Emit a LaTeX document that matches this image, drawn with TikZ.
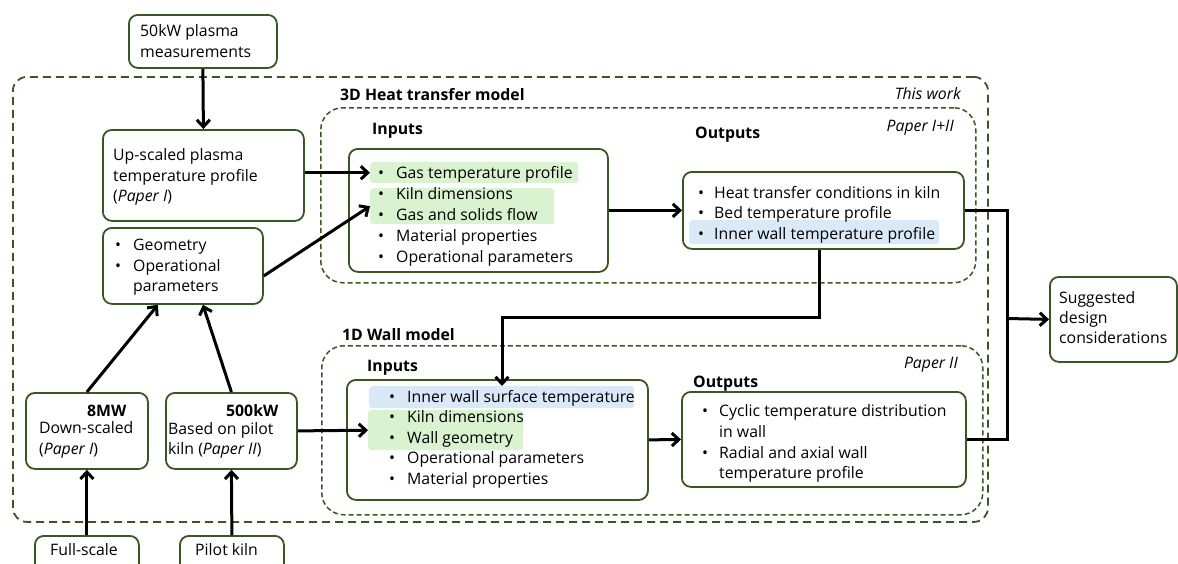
\documentclass[tikz,border=0pt]{standalone}
\usepackage{fontspec}
\setmainfont{Open Sans}
\usetikzlibrary{arrows.meta,calc}
\definecolor{dg}{RGB}{56,87,35}
\definecolor{hlg}{RGB}{217,242,208}
\definecolor{hlb}{RGB}{218,233,247}
\begin{document}
\begin{tikzpicture}[x=1pt,y=-1pt,
  box/.style={draw=dg,line width=1.8pt,rounded corners=9pt,anchor=north west,inner sep=0pt,fill=white},
  bigdash/.style={draw=dg,line width=1.8pt,rounded corners=14pt,anchor=north west,inner sep=0pt,dash pattern=on 8pt off 5pt},
  smalldash/.style={draw=dg,line width=1.5pt,rounded corners=22pt,anchor=north west,inner sep=0pt,dash pattern=on 5pt off 3pt},
  hl/.style={anchor=north west,inner sep=0pt,rounded corners=3pt},
  t/.style={anchor=base west,inner sep=0pt,font=\fontsize{15.8}{18}\selectfont},
  tb/.style={t,font=\fontsize{15.8}{18}\selectfont\bfseries},
  ti/.style={anchor=base east,inner sep=0pt,font=\fontsize{15.8}{18}\selectfont\itshape},
  arr/.style={line width=3pt,-{Straight Barb[length=7pt,width=13pt]}},
  ln/.style={line width=3pt}
]
\useasboundingbox (0,0) rectangle (1178,563);
\clip (0,0) rectangle (1178,563);

% dashed frames
\node[bigdash,minimum width=975pt,minimum height=445pt] (work) at (12,76) {};
\node[ti] (thiswork) at (961,99) {This work};
\node[smalldash,minimum width=655pt,minimum height=175pt] (frame3d) at (320,107) {};
\node[tb] (title3d) at (340,100) {3D Heat transfer model};
\node[ti] (p12) at (954,131) {Paper I+II};
\node[smalldash,minimum width=661pt,minimum height=169pt] (frame1d) at (321,345) {};
\node[tb] (title1d) at (342,340) {1D Wall model};
\node[ti] (p2) at (958,368) {Paper II};

% top box
\node[box,minimum width=148pt,minimum height=53pt] (p50) at (128,14) {};
\node[t] (p50a) at (140,36) {50kW plasma};
\node[t] (p50b) at (140,57) {measurements};

% up-scaled
\node[box,minimum width=201pt,minimum height=91pt] (up) at (102,129) {};
\node[t] (upa) at (113,160) {Up-scaled plasma};
\node[t] (upb) at (113,181) {temperature profile};
\node[t] (upc) at (113,201) {(\textit{Paper I})};

% geometry
\node[box,minimum width=160pt,minimum height=76pt] (geo) at (102,227) {};
\node[t] (geob1) at (115,250) {•};
\node[t] (geoa) at (133,250) {Geometry};
\node[t] (geob2) at (115,271) {•};
\node[t] (geoc) at (133,271) {Operational};
\node[t] (geod) at (133,291) {parameters};

% 3D inputs
\node[tb] (in3t) at (372,134) {Inputs};
\node[box,minimum width=259pt,minimum height=123pt] (in3) at (348,148) {};
\node[hl,fill=hlg,minimum width=208pt,minimum height=21pt] (g1) at (370,162) {};
\node[hl,fill=hlg,minimum width=184pt,minimum height=36pt] (g2) at (370,188) {};
\foreach \yy/\txt [count=\i] in {173/Gas temperature profile,194/Kiln dimensions,215/Gas and solids flow,236/Material properties,257/Operational parameters}{
  \node[t] (in3b\i) at (378,\yy+5) {•};
  \node[t] (in3l\i) at (396,\yy+5) {\txt};
}

% 3D outputs
\node[tb] (out3t) at (695,138) {Outputs};
\node[box,minimum width=281pt,minimum height=77pt] (out3) at (682,171) {};
\node[hl,fill=hlb,minimum width=250pt,minimum height=24pt] (b1) at (689,220) {};
\foreach \yy/\txt [count=\i] in {193/Heat transfer conditions in kiln,213/Bed temperature profile,234/Inner wall temperature profile}{
  \node[t] (out3b\i) at (698,\yy+5) {•};
  \node[t] (out3l\i) at (714,\yy+5) {\txt};
}

% 1D inputs
\node[tb] (in1t) at (367,371) {Inputs};
\node[box,minimum width=301pt,minimum height=120pt] (in1) at (346,379) {};
\node[hl,fill=hlb,minimum width=265pt,minimum height=22pt] (b2) at (369,386) {};
\node[hl,fill=hlg,minimum width=155pt,minimum height=40pt] (g3) at (368,410) {};
\foreach \yy/\txt [count=\i] in {397/Inner wall surface temperature,417/Kiln dimensions,438/Wall geometry,458/Operational parameters,479/Material properties}{
  \node[t] (in1b\i) at (389,\yy+5) {•};
  \node[t] (in1l\i) at (407,\yy+5) {\txt};
}

% 1D outputs
\node[tb] (out1t) at (693,387) {Outputs};
\node[box,minimum width=284pt,minimum height=95pt] (out1) at (681,391) {};
\node[t] (out1b1) at (702,416) {•};
\node[t] (out1l1) at (719,416) {Cyclic temperature distribution};
\node[t] (out1l2) at (719,437) {in wall};
\node[t] (out1b2) at (702,458) {•};
\node[t] (out1l3) at (719,458) {Radial and axial wall};
\node[t] (out1l4) at (719,478) {temperature profile};

% 8MW / 500kW
\node[box,minimum width=122pt,minimum height=76pt] (mw8) at (25,392) {};
\node[tb] (mw8a) at (87,416) {8MW};
\node[t] (mw8b) at (39,433) {Down-scaled};
\node[t] (mw8c) at (39,454) {(\textit{Paper I})};
\node[box,minimum width=131pt,minimum height=76pt] (kw5) at (165,392) {};
\node[tb] (kw5a) at (226,416) {500kW};
\node[t] (kw5b) at (168,434) {Based on pilot};
\node[t] (kw5c) at (168,454) {kiln (\textit{Paper II})};

% bottom boxes
\node[box,minimum width=104pt,minimum height=40pt] (full) at (34,535) {};
\node[t] (fulla) at (50,555) {Full-scale};
\node[box,minimum width=104pt,minimum height=40pt] (pilot) at (179,535) {};
\node[t] (pilota) at (195,555) {Pilot kiln};

% suggested
\node[box,minimum width=127pt,minimum height=85pt] (sugg) at (1049,276) {};
\node[t] (sugga) at (1059,303) {Suggested};
\node[t] (suggb) at (1059,323) {design};
\node[t] (suggc) at (1059,343) {considerations};

% connectors
\draw[arr] (p50.south) -- (up.north);
\draw[arr] (up.east |- g1.west) -- (g1.west);
\draw[arr] ($(geo.east)+(0,10)$) -- (g2.west);
\draw[arr] (in3.east) -- (out3.west);
\draw[arr] (mw8.north) -- ($(geo.south)+(-25,0)$);
\draw[arr] (kw5.north) -- ($(geo.south)+(20,0)$);
\draw[arr] (full.north) -- (mw8.south);
\draw[arr] (pilot.north) -- (kw5.south);
\draw[arr] (kw5.east) -- (g3.west);
\draw[arr] (in1.east) -- (out1.west);
\coordinate (bendA) at (819,317);
\coordinate (bendB) at (502,317);
\draw[arr] (out3.south -| bendA) -- (bendA) -- (bendB) -- (bendB |- b2.north);
\coordinate (join) at (1007,318.5);
\draw[ln] (out3.east) -| (join) |- (out1.east);
\draw[arr] (join) -- (sugg.west);
\end{tikzpicture}
\end{document}
